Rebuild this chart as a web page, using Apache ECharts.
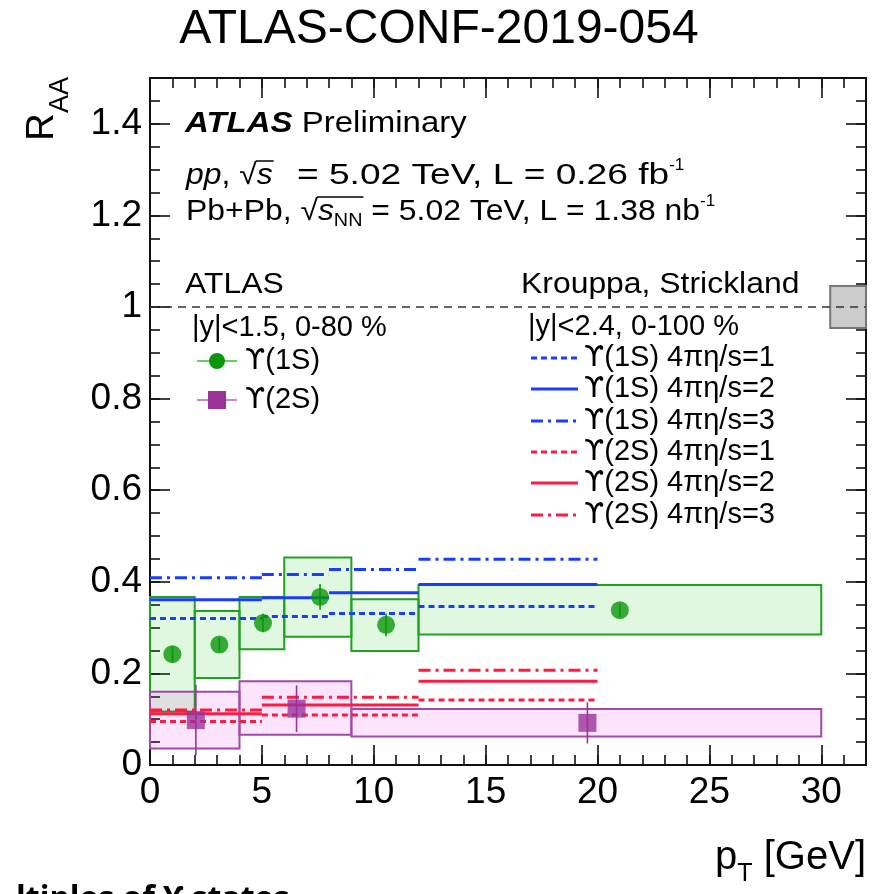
<!DOCTYPE html>
<html><head><meta charset="utf-8">
<script src="https://cdn.jsdelivr.net/npm/echarts@6/dist/echarts.min.js"></script>
<style>html,body{margin:0;padding:0;background:#fff;overflow:hidden}#c{width:884px;height:894px}</style>
</head><body><div id="c"></div>
<script>
// ---------------- DATA ----------------
const xTicks = [0, 5, 10, 15, 20, 25, 30];
const yTicks = [0, 0.2, 0.4, 0.6, 0.8, 1, 1.2, 1.4];
// Upsilon(1S): systematic boxes [xlo, xhi, ylo, yhi]
const ups1Boxes = [[0,2,0.117,0.367],[2,4,0.190,0.336],[4,6,0.253,0.367],[6,9,0.280,0.453],[9,12,0.249,0.362],[12,30,0.285,0.393]];
// Upsilon(1S): points [x, y, statErr]
const ups1Points = [[1.0,0.242,0.017],[3.1,0.263,0.015],[5.05,0.310,0.02],[7.6,0.367,0.028],[10.55,0.306,0.025],[21.0,0.338,0.015]];
// Upsilon(2S)
const ups2Boxes = [[0,4,0.036,0.160],[4,9,0.066,0.183],[9,30,0.062,0.122]];
const ups2Points = [[2.05,0.098,0.077],[6.55,0.123,0.051],[19.55,0.092,0.045]];
// Krouppa-Strickland model segments [xlo, xhi, R_AA]
const ks1S_eta1 = [[0,5,0.320],[5,8,0.324],[8,12,0.331],[12,20,0.346]];
const ks1S_eta2 = [[0,5,0.361],[5,8,0.365],[8,12,0.376],[12,20,0.394]];
const ks1S_eta3 = [[0,5,0.409],[5,8,0.416],[8,12,0.427],[12,20,0.449]];
const ks2S_eta1 = [[0,5,0.095],[5,12,0.109],[12,20,0.142]];
const ks2S_eta2 = [[0,5,0.112],[5,12,0.131],[12,20,0.183]];
const ks2S_eta3 = [[0,5,0.120],[5,12,0.148],[12,20,0.207]];
// unity line and global normalisation uncertainty box
const unity = 1;
const normBox = [[30.4, 32, 0.954, 1.046]];

// ---------------- STYLE ----------------
const FF = "'Liberation Sans', Arial, Helvetica, sans-serif";
const FG = "'DejaVu Sans', 'Liberation Sans', sans-serif";
const BLUE = '#1a3cff', RED = '#ff1a40';
const DOT = [6,4], DASHDOT = [12,5,3,5];
const ctx = document.createElement('canvas').getContext('2d');

function fontOf(p){ return `${p.italic?'italic ':''}${p.bold?'bold ':''}${p.size}px ${p.family||FF}`; }
function runWidth(parts){
  let w = 0;
  for (const p of parts){ ctx.font = fontOf(p); w += ctx.measureText(p.t).width * (p.sx||1) + (p.gap||0); }
  return w;
}
function textRun(x, yMid, parts, align){
  const out = [];
  let cx = x;
  if (align === 'right') cx = x - runWidth(parts);
  if (align === 'center') cx = x - runWidth(parts)/2;
  const pos = [];
  for (const p of parts){
    cx += (p.gap||0);
    ctx.font = fontOf(p);
    const w = ctx.measureText(p.t).width * (p.sx||1);
    out.push({type:'text', x:cx, y:yMid + (p.dy||0), scaleX:p.sx||1, z:100,
      style:{text:p.t, fontSize:p.size, fontFamily:p.family||FF, fontWeight:p.bold?'bold':'normal',
        fontStyle:p.italic?'italic':'normal', fill:p.color||'#000', align:'left', verticalAlign:'middle'}});
    pos.push([cx, cx+w]);
    cx += w;
  }
  return {els:out, pos};
}
function overline(x1, x2, y){
  return {type:'line', z:100, shape:{x1, y1:y, x2, y2:y}, style:{stroke:'#000', lineWidth:1.5}};
}

const graphics = [];
// title
graphics.push(...textRun(439, 30, [{t:'ATLAS-CONF-2019-054', size:48}], 'center').els);
// ATLAS Preliminary
const SX = 1.1;
graphics.push(...textRun(185, 124, [{t:'ATLAS', size:30, bold:true, italic:true, sx:SX},{t:' Preliminary', size:30, sx:SX}]).els);
// pp line
{
  const S = 29;
  const r = textRun(186, 176, [{t:'pp', size:S, italic:true, sx:SX},{t:', ', size:S, sx:SX},{t:'√', size:S, sx:SX},{t:'s', size:S, italic:true, sx:SX},
    {t:' = 5.02 TeV, L = 0.26 fb', size:S, sx:1.28, gap:14},{t:'-1', size:17, dy:-11}]);
  graphics.push(...r.els, overline(r.pos[2][1]-1, r.pos[3][1]+1, 176-15));
}
{
  const S = 29;
  const r = textRun(186, 212, [{t:'Pb+Pb, ', size:S, sx:SX},{t:'√', size:S, sx:SX},{t:'s', size:S, italic:true, sx:SX},{t:'NN', size:18, dy:9, sx:SX},
    {t:' = 5.02 TeV, L = 1.38 nb', size:S, sx:SX},{t:'-1', size:17, dy:-11}]);
  graphics.push(...r.els, overline(r.pos[1][1]-1, r.pos[3][1]+1, 212-15));
}
// left legend
graphics.push(...textRun(185, 285, [{t:'ATLAS', size:29, sx:SX}]).els);
graphics.push(...textRun(192, 328, [{t:'|y|<1.5, 0-80 %', size:29}]).els);
graphics.push({type:'line', z:90, shape:{x1:197,y1:361,x2:237,y2:361}, style:{stroke:'#66cc66', lineWidth:2}});
graphics.push({type:'circle', z:91, shape:{cx:217,cy:361,r:8}, style:{fill:'#0a960a'}});
graphics.push(...textRun(245, 361, [{t:'ϒ', size:29, family:FG},{t:'(1S)', size:29}]).els);
graphics.push({type:'line', z:90, shape:{x1:197,y1:400,x2:237,y2:400}, style:{stroke:'#c68acc', lineWidth:2}});
graphics.push({type:'rect', z:91, shape:{x:208,y:391,width:18,height:18}, style:{fill:'#993399'}});
graphics.push(...textRun(245, 400, [{t:'ϒ', size:29, family:FG},{t:'(2S)', size:29}]).els);
// right legend
graphics.push(...textRun(521, 285, [{t:'Krouppa, Strickland', size:29, sx:SX}]).els);
graphics.push(...textRun(528, 327, [{t:'|y|<2.4, 0-100 %', size:29}]).els);
const legRows = [
  ['1S', '1', BLUE, DOT, 358],
  ['1S', '2', BLUE, null, 389],
  ['1S', '3', BLUE, DASHDOT, 421],
  ['2S', '1', RED, DOT, 452],
  ['2S', '2', RED, null, 483],
  ['2S', '3', RED, DASHDOT, 515]
];
for (const [st, eta, col, dash, y] of legRows){
  graphics.push({type:'line', z:90, shape:{x1:531,y1:y,x2:578,y2:y}, style:{stroke:col, lineWidth:3, lineDash:dash||null}});
  graphics.push(...textRun(584, y, [{t:'ϒ', size:29, family:FG},{t:'(' + st + ') 4πη/s=' + eta, size:29}]).els);
}
// axis titles
graphics.push({type:'text', x:43, y:127, rotation:Math.PI/2, z:100,
  style:{text:'R', fontSize:38, fontFamily:FF, fill:'#000', align:'center', verticalAlign:'middle'}});
graphics.push({type:'text', x:61, y:95, rotation:Math.PI/2, z:100,
  style:{text:'AA', fontSize:27, fontFamily:FF, fill:'#000', align:'center', verticalAlign:'middle'}});
graphics.push(...textRun(866, 858, [{t:'p', size:40},{t:'T', size:25, dy:16},{t:' [GeV]', size:40}], 'right').els);
// slide text cut at the bottom
graphics.push({type:'text', x:16, y:884, z:100,
  style:{text:'ltiples of ϒ states', fontSize:32, fontWeight:'bold', fontFamily:"'Open Sans', 'Noto Sans', sans-serif", fill:'#000', align:'left', verticalAlign:'top'}});

// ---------------- SERIES ----------------
function boxSeries(data, fill, stroke){
  return {type:'custom', data, z:2, silent:true,
    renderItem(params, api){
      const p0 = api.coord([api.value(0), api.value(3)]);
      const p1 = api.coord([api.value(1), api.value(2)]);
      return {type:'rect', shape:{x:p0[0], y:p0[1], width:p1[0]-p0[0], height:p1[1]-p0[1]},
        style:{fill, stroke, lineWidth:2}};
    }};
}
function segSeries(data, color, dash){
  return {type:'custom', data, z:4, silent:true,
    renderItem(params, api){
      const a = api.coord([api.value(0), api.value(2)]);
      const b = api.coord([api.value(1), api.value(2)]);
      return {type:'line', shape:{x1:a[0], y1:a[1], x2:b[0], y2:b[1]},
        style:{stroke:color, lineWidth:3, lineDash:dash||null}};
    }};
}
function errSeries(data, color){
  return {type:'custom', data, z:5, silent:true,
    renderItem(params, api){
      const a = api.coord([api.value(0), api.value(1)-api.value(2)]);
      const b = api.coord([api.value(0), api.value(1)+api.value(2)]);
      return {type:'line', shape:{x1:a[0], y1:a[1], x2:b[0], y2:b[1]}, style:{stroke:color, lineWidth:1.6}};
    }};
}

const axisLineStyle = {color:'#111', width:2};
function xAx(pos, interval, len, labels){
  return {type:'value', min:0, max:32, interval, position:pos, gridIndex:0,
    axisLine:{show:true, onZero:false, lineStyle:axisLineStyle},
    axisTick:{show:true, inside:true, length:len, lineStyle:{color:'#111', width:1.6}},
    axisLabel:labels ? {show:true, fontSize:37, fontFamily:FF, color:'#000', margin:9,
      formatter:v => (xTicks.indexOf(Math.round(v*1000)/1000) >= 0 ? String(v) : '')} : {show:false},
    splitLine:{show:false}};
}
function yAx(pos, interval, len, labels){
  return {type:'value', min:0, max:1.5, interval, position:pos, gridIndex:0,
    axisLine:{show:true, onZero:false, lineStyle:axisLineStyle},
    axisTick:{show:true, inside:true, length:len, lineStyle:{color:'#111', width:1.6}},
    axisLabel:labels ? {show:true, fontSize:37, fontFamily:FF, color:'#000', margin:8,
      formatter:v => { const r = Math.round(v*100)/100; return yTicks.indexOf(r) >= 0 ? String(r) : ''; }} : {show:false},
    splitLine:{show:false}};
}

const chart = echarts.init(document.getElementById('c'), null, {renderer:'canvas'});
chart.setOption({
  animation:false,
  backgroundColor:'#fff',
  grid:{left:150, top:78, width:716, height:687, containLabel:false},
  xAxis:[xAx('bottom',5,20,true), xAx('bottom',1,10,false), xAx('top',5,20,false), xAx('top',1,10,false)],
  yAxis:[yAx('left',0.2,20,true), yAx('left',0.05,10,false), yAx('right',0.2,20,false), yAx('right',0.05,10,false)],
  series:[
    boxSeries(ups1Boxes, 'rgba(0,200,0,0.12)', '#22a022'),
    boxSeries(ups2Boxes, 'rgba(230,0,230,0.10)', '#a04aa8'),
    boxSeries(normBox, '#cccccc', '#777777'),
    {type:'line', data:[[0,unity],[32,unity]], symbol:'none', z:3, silent:true,
      lineStyle:{color:'#333', width:1.5, type:[8,6]}},
    segSeries(ks1S_eta1, BLUE, DOT),
    segSeries(ks1S_eta2, BLUE, null),
    segSeries(ks1S_eta3, BLUE, DASHDOT),
    segSeries(ks2S_eta1, RED, DOT),
    segSeries(ks2S_eta2, RED, null),
    segSeries(ks2S_eta3, RED, DASHDOT),
    errSeries(ups1Points, '#0a960a'),
    errSeries(ups2Points, '#993399'),
    {type:'scatter', data:ups1Points.map(p => [p[0], p[1]]), symbol:'circle', symbolSize:18, z:6, silent:true,
      itemStyle:{color:'#0a960a'}},
    {type:'scatter', data:ups2Points.map(p => [p[0], p[1]]), symbol:'rect', symbolSize:18, z:6, silent:true,
      itemStyle:{color:'#993399'}}
  ],
  graphic:graphics
});
</script></body></html>
